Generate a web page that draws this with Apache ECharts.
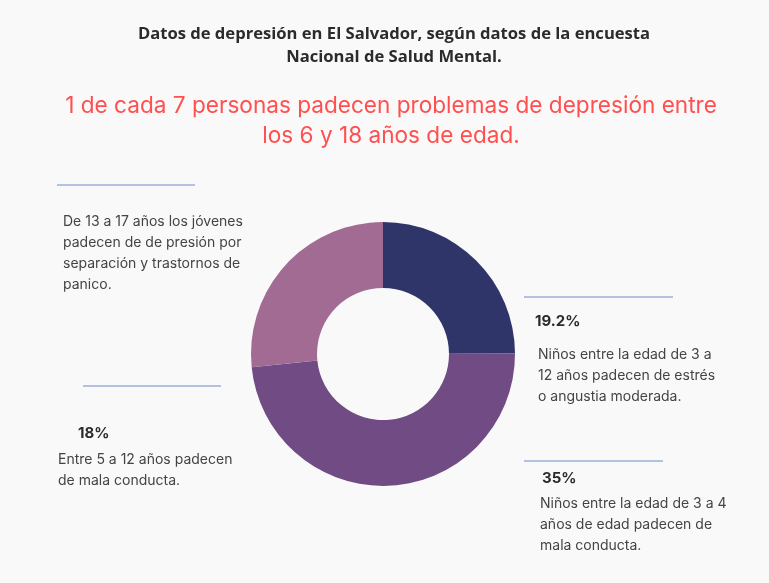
<!DOCTYPE html>
<html>
<head>
<meta charset="utf-8">
<script src="https://cdn.jsdelivr.net/npm/echarts@6/dist/echarts.min.js"></script>
<style>
  html, body { margin: 0; padding: 0; background: #f9f9f9; }
  #main { width: 769px; height: 583px; }
</style>
</head>
<body>
<div id="main"></div>
<script>
// datos de la encuesta (orden horario desde arriba)
var groups = ['Entre 5 a 12 años', 'De 3 a 4 años', 'De 13 a 17 años'];
var values = [18, 35, 19.2];
var colors = ['#2f3469', '#714b84', '#a16b94'];

var notes = [
  'Entre 5 a 12 años padecen\nde mala conducta.',
  'Niños entre la edad de 3 a 4\naños de edad padecen de\nmala conducta.',
  'Niños entre la edad de 3 a\n12 años padecen de estrés\no angustia moderada.'
];
var topNote = 'De 13 a 17 años los jóvenes\npadecen de de presión por\nseparación y trastornos de\npanico.';

var chart = echarts.init(document.getElementById('main'));

function rule(x1, x2, y) {
  return {
    type: 'line',
    shape: { x1: x1, y1: y, x2: x2, y2: y },
    style: { stroke: '#9ab0d6', lineWidth: 1.5 }
  };
}
function pct(v) { return v + '%'; }
function txt(x, y, s, bold, size) {
  return {
    type: 'text', left: x, top: y,
    style: {
      text: s, fill: bold ? '#2b2b2b' : '#444',
      font: (bold ? 'bold ' : '') + (size || 14) + 'px Inter',
      lineHeight: 21
    }
  };
}

var option = {
  backgroundColor: '#f9f9f9',
  title: [
    {
      text: 'Datos de depresión en El Salvador, según datos de la encuesta\nNacional de Salud Mental.',
      left: 389, top: 18, textAlign: 'center',
      textStyle: { fontFamily: 'Open Sans', fontWeight: 'bold', fontSize: 16.6, color: '#2b2b2b', lineHeight: 23 }
    },
    {
      text: '1 de cada 7 personas padecen problemas de depresión entre\nlos 6 y 18 años de edad.',
      left: 386, top: 86, textAlign: 'center',
      textStyle: { fontFamily: 'Inter', fontWeight: 'normal', fontSize: 22.6, color: '#ff4f4f', lineHeight: 30 }
    }
  ],
  series: [{
    type: 'pie',
    center: [383, 354],
    radius: [66, 132],
    startAngle: 90,
    clockwise: true,
    silent: true,
    label: { show: false },
    labelLine: { show: false },
    data: groups.map(function (g, i) {
      return { name: g, value: values[i], itemStyle: { color: colors[i] } };
    })
  }],
  graphic: [
    rule(57, 195, 185),
    txt(63, 211, topNote),
    rule(83, 221, 386),
    txt(78, 423, pct(values[0]), true, 15),
    txt(58, 449, notes[0]),
    rule(524, 673, 297),
    txt(535, 311, pct(values[2]), true, 15),
    txt(538, 344, notes[2]),
    rule(524, 663, 461),
    txt(542, 468, pct(values[1]), true, 15),
    txt(540, 493, notes[1])
  ]
};
chart.setOption(option);
</script>
</body>
</html>
